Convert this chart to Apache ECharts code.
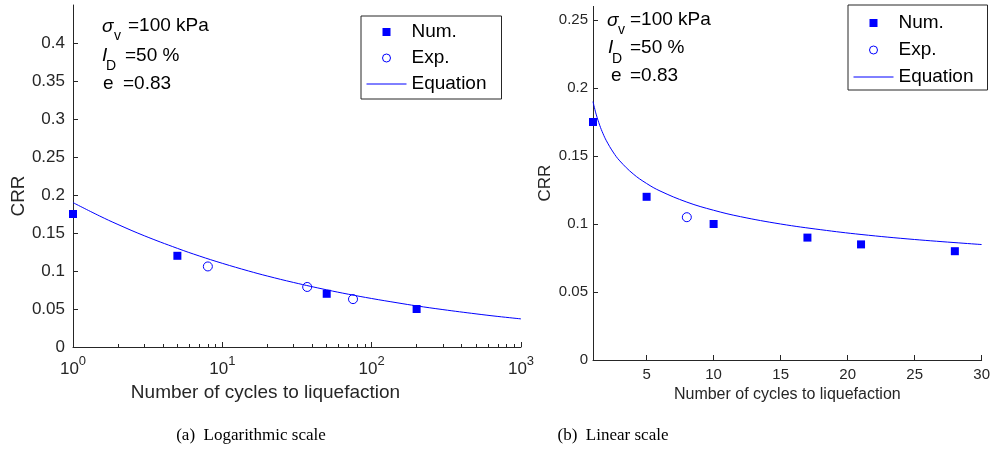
<!DOCTYPE html>
<html>
<head>
<meta charset="utf-8">
<script src="https://cdn.jsdelivr.net/npm/echarts@6/dist/echarts.min.js"></script>
<style>
  html, body { margin: 0; padding: 0; background: #fff; }
  #chart { width: 993px; height: 461px; }
</style>
</head>
<body>
<div id="chart"></div>
<script>
// equation curve
var logCycles = [1, 1.5, 2, 3, 5, 7, 10, 15, 20, 30, 50, 70, 100, 150, 200, 300, 500, 700, 1000];
var logCurve = [0.1900, 0.1726, 0.1612, 0.1464, 0.1298, 0.1198, 0.1101, 0.1000, 0.0934, 0.0849, 0.0752, 0.0694, 0.0638, 0.0580, 0.0541, 0.0492, 0.0436, 0.0402, 0.0370];
var linCycles = [1, 1.1, 1.25, 1.5, 1.75, 2, 2.5, 3, 4, 5, 6, 8, 10, 12, 15, 18, 21, 25, 30];
var linCurve = [0.1900, 0.1858, 0.1802, 0.1726, 0.1664, 0.1612, 0.1529, 0.1464, 0.1368, 0.1298, 0.1243, 0.1161, 0.1101, 0.1054, 0.1000, 0.0958, 0.0923, 0.0886, 0.0849];

// points
var numLogN = [1, 5, 50, 200];
var numLogCRR = [0.175, 0.12, 0.07, 0.05];
var expLogN = [8, 37, 75];
var expLogCRR = [0.106, 0.079, 0.063];
var numLinN = [1, 5, 10, 17, 21, 28];
var numLinCRR = [0.175, 0.12, 0.1, 0.09, 0.085, 0.08];
var expLinN = [8];
var expLinCRR = [0.105];

// ticks
var logMajorTicks = [1, 10, 100, 1000];
var logMinorTicks = [2, 3, 4, 5, 6, 7, 8, 9, 20, 30, 40, 50, 60, 70, 80, 90, 200, 300, 400, 500, 600, 700, 800, 900];
var linTicks = [5, 10, 15, 20, 25, 30];
var legendNames = ['Num.', 'Exp.', 'Equation'];

var FONT = "'Liberation Sans', Arial, sans-serif";
var SERIF = "'Liberation Serif', 'Times New Roman', serif";
var AX = '#262626';
var BLUE = '#0000ff';

function pairs(xs, ys) {
  return xs.map(function (x, i) { return [x, ys[i]]; });
}

function yAxisBase(grid, max, fs, margin, gap, pad) {
  return {
    type: 'value', gridIndex: grid, min: 0, max: max, interval: 0.05,
    name: 'CRR', nameLocation: 'middle', nameGap: gap,
    nameTextStyle: { color: AX, fontSize: fs + 2, fontFamily: FONT, padding: pad },
    axisLine: { show: true, lineStyle: { color: AX, width: 1 } },
    axisTick: { show: true, inside: true, length: 5, lineStyle: { color: AX } },
    axisLabel: { color: AX, fontSize: fs, fontFamily: FONT, margin: margin, showMaxLabel: false },
    splitLine: { show: false }
  };
}

function legendBase(left, top, pad, gap) {
  return {
    orient: 'vertical', left: left, top: top,
    padding: pad, itemGap: gap, itemWidth: 40, itemHeight: 8,
    borderColor: AX, borderWidth: 1, borderRadius: 0, backgroundColor: '#fff',
    textStyle: { color: '#000', fontSize: 19, fontFamily: FONT, lineHeight: 20 },
    lineStyle: { width: 1 },
    symbolKeepAspect: true,
    data: [
      { name: legendNames[0], icon: 'path://M0,0H10V10H0Z', itemStyle: { borderWidth: 0 } },
      { name: legendNames[1], itemStyle: { borderWidth: 1, borderColor: BLUE } },
      { name: legendNames[2], itemStyle: { color: 'rgba(0,0,0,0)', borderWidth: 0 } }
    ],
    selectedMode: false
  };
}

function txt(x, y, s, size, italic) {
  return {
    type: 'text', x: x, y: y, silent: true,
    style: {
      text: s, fill: '#000', fontSize: size, fontFamily: FONT,
      fontStyle: italic ? 'italic' : 'normal', verticalAlign: 'middle', align: 'left'
    }
  };
}

var numStyle = { color: BLUE, opacity: 1 };
var expStyle = { color: 'none', borderColor: BLUE, borderWidth: 1, opacity: 1 };

var option = {
  animation: false,
  backgroundColor: '#fff',
  grid: [
    { left: 73, top: 5, width: 448, height: 342 },
    { left: 593, top: 6.4, width: 392, height: 353.6 }
  ],
  xAxis: [
    {
      type: 'log', gridIndex: 0, min: 1, max: 1000, position: 'bottom',
      name: 'Number of cycles to liquefaction', nameLocation: 'middle', nameGap: 36,
      nameTextStyle: { color: AX, fontSize: 19, fontFamily: FONT, padding: [0, 63, 0, 0] },
      axisLine: { show: true, lineStyle: { color: AX, width: 1 } },
      axisTick: { show: true, inside: true, length: 5, customValues: logMajorTicks, lineStyle: { color: AX } },
      axisLabel: {
        customValues: logMajorTicks, margin: 8,
        formatter: function (v) { return '{b|10}{s|' + Math.round(Math.log10(v)) + '}'; },
        rich: {
          b: { color: AX, fontSize: 17, fontFamily: FONT },
          s: { color: AX, fontSize: 13, fontFamily: FONT, padding: [0, 0, 15, 0] }
        }
      },
      splitLine: { show: false }
    },
    {
      type: 'log', gridIndex: 0, min: 1, max: 1000, position: 'bottom', offset: 0,
      axisLine: { show: false },
      axisTick: { show: true, inside: true, length: 3, customValues: logMinorTicks, lineStyle: { color: AX } },
      axisLabel: { show: false },
      splitLine: { show: false }
    },
    {
      type: 'value', gridIndex: 1, min: 1, max: 30,
      name: 'Number of cycles to liquefaction', nameLocation: 'middle', nameGap: 26,
      nameTextStyle: { color: AX, fontSize: 16, fontFamily: FONT },
      axisLine: { show: true, lineStyle: { color: AX, width: 1 } },
      axisTick: { show: true, inside: true, length: 5, customValues: linTicks, lineStyle: { color: AX } },
      axisLabel: { customValues: linTicks, color: AX, fontSize: 15, fontFamily: FONT, margin: 7 },
      splitLine: { show: false }
    }
  ],
  yAxis: [
    yAxisBase(0, 0.45, 17, 8, 45, [0, 40, 0, 0]),
    yAxisBase(1, 0.26, 15, 5, 39, 0)
  ],
  legend: [
    legendBase(361, 16, [6, 15, 5, 5], 6),
    legendBase(848, 5, [8, 14, 3, 5], 7)
  ],
  series: [
    {
      name: 'Num.', type: 'scatter', xAxisIndex: 0, yAxisIndex: 0,
      symbol: 'rect', symbolSize: 8, itemStyle: numStyle,
      data: pairs(numLogN, numLogCRR), z: 3
    },
    {
      name: 'Exp.', type: 'scatter', xAxisIndex: 0, yAxisIndex: 0,
      symbol: 'circle', symbolSize: 9, itemStyle: expStyle,
      data: pairs(expLogN, expLogCRR), z: 3
    },
    {
      name: 'Equation', type: 'line', xAxisIndex: 0, yAxisIndex: 0,
      symbol: 'none', smooth: 0.4,
      lineStyle: { color: BLUE, width: 1 }, itemStyle: { color: BLUE },
      data: pairs(logCycles, logCurve)
    },
    {
      name: 'Num.', type: 'scatter', xAxisIndex: 2, yAxisIndex: 1,
      symbol: 'rect', symbolSize: 8, itemStyle: numStyle,
      data: pairs(numLinN, numLinCRR), z: 3
    },
    {
      name: 'Exp.', type: 'scatter', xAxisIndex: 2, yAxisIndex: 1,
      symbol: 'circle', symbolSize: 9, itemStyle: expStyle,
      data: pairs(expLinN, expLinCRR), z: 3
    },
    {
      name: 'Equation', type: 'line', xAxisIndex: 2, yAxisIndex: 1,
      symbol: 'none', smooth: 0.4,
      lineStyle: { color: BLUE, width: 1 }, itemStyle: { color: BLUE },
      data: pairs(linCycles, linCurve)
    }
  ],
  graphic: [
    // left annotation
    txt(102, 27, 'σ', 19, true),
    txt(114, 36, 'v', 14, false),
    txt(128, 26, '=100 kPa', 19, false),
    txt(102, 56, 'I', 19, true),
    txt(106, 66, 'D', 14, false),
    txt(125, 56, '=50 %', 19, false),
    txt(103, 84, 'e', 19, false),
    txt(123, 84, '=0.83', 19, false),
    // right annotation
    txt(607, 21, 'σ', 19, true),
    txt(618, 30, 'v', 14, false),
    txt(630, 20, '=100 kPa', 19, false),
    txt(608, 48, 'I', 19, true),
    txt(612, 59, 'D', 14, false),
    txt(630, 48, '=50 %', 19, false),
    txt(611, 76, 'e', 19, false),
    txt(630, 76, '=0.83', 19, false),
    // captions
    {
      type: 'text', x: 251, y: 436, silent: true,
      style: { text: '(a)  Logarithmic scale', fill: '#000', fontSize: 17, fontFamily: SERIF, align: 'center', verticalAlign: 'middle' }
    },
    {
      type: 'text', x: 613, y: 436, silent: true,
      style: { text: '(b)  Linear scale', fill: '#000', fontSize: 17, fontFamily: SERIF, align: 'center', verticalAlign: 'middle' }
    }
  ]
};

var myChart = echarts.init(document.getElementById('chart'), null, { renderer: 'canvas' });
myChart.setOption(option);
</script>
</body>
</html>
